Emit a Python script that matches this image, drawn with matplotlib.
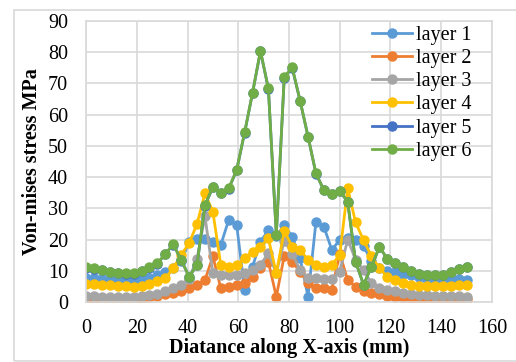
import numpy as np
import matplotlib
matplotlib.use('Agg')
import matplotlib.pyplot as plt
from matplotlib.patches import Rectangle

plt.rcParams['font.family'] = ['Liberation Serif', 'DejaVu Serif']

# distance along X-axis (mm), 49 nodes
x = np.linspace(0, 150, 49)

layer1 = [7.7, 7.6, 7.4, 7.2, 7.0, 7.0, 7.0, 7.3, 7.8, 8.5, 9.5, 10.8, 13.0,
          19.3, 20.1, 20.3, 19.3, 18.3, 26.3, 24.7, 3.8, 11.3, 19.3, 23.0, 21.0,
          24.7, 20.9, 14.0, 1.7, 25.7, 24.1, 16.7, 19.9, 20.4, 20.0, 18.0, 13.0,
          11.0, 10.0, 9.5, 9.0, 8.5, 8.0, 7.5, 7.5, 7.5, 7.5, 7.3, 7.0]
layer2 = [0.6, 0.6, 0.5, 0.5, 0.5, 0.6, 0.7, 1.0, 1.5, 2.0, 2.5, 3.0, 3.6,
          4.5, 5.5, 7.0, 14.6, 4.4, 4.9, 5.4, 6.0, 8.1, 10.8, 12.9, 1.7,
          14.8, 12.9, 9.7, 6.0, 4.4, 4.4, 4.0, 15.5, 7.0, 4.9, 3.5, 3.0,
          2.5, 2.0, 1.5, 1.2, 1.0, 0.8, 0.7, 0.7, 0.7, 0.8, 0.9, 1.0]
layer3 = [1.8, 1.8, 1.7, 1.6, 1.6, 1.6, 1.7, 1.9, 2.2, 2.6, 3.4, 4.4, 5.5,
          7.5, 13.8, 27.5, 9.2, 8.8, 8.5, 8.8, 9.2, 10.2, 12.0, 15.6, 9.2,
          19.6, 15.5, 10.2, 7.6, 7.6, 7.4, 7.4, 9.7, 20.0, 13.5, 10.2, 6.0,
          4.5, 4.0, 3.5, 3.0, 2.6, 2.3, 2.1, 2.0, 2.0, 2.0, 2.0, 1.7]
layer4 = [5.8, 5.8, 5.5, 5.3, 5.0, 5.0, 4.9, 5.2, 5.8, 6.6, 7.6, 10.8, 15.1,
          18.8, 25.0, 34.8, 28.9, 11.9, 11.3, 11.9, 14.0, 16.1, 17.7, 20.4, 9.2,
          22.8, 17.7, 16.7, 13.5, 11.9, 11.3, 11.9, 15.1, 36.4, 25.5, 19.8, 14.7,
          10.8, 8.1, 7.0, 6.2, 5.6, 5.2, 5.0, 5.0, 5.0, 5.2, 5.4, 5.3]
layer5 = [11.0, 10.7, 10.1, 9.5, 9.2, 9.1, 9.1, 9.8, 11.0, 12.3, 15.3, 18.4, 13.5,
          8.1, 11.8, 30.9, 36.8, 34.9, 36.3, 42.2, 54.2, 66.9, 80.3, 68.3, 21.6,
          71.9, 75.0, 64.4, 53.0, 41.1, 35.8, 34.5, 35.6, 32.0, 12.9, 5.5, 11.3,
          17.6, 13.8, 12.6, 11.3, 9.9, 8.9, 8.6, 8.6, 8.6, 9.7, 10.5, 11.2]
layer6 = [11.1, 10.8, 10.2, 9.5, 9.2, 9.2, 9.2, 9.8, 11.1, 12.4, 15.4, 18.5, 13.5,
          8.1, 11.9, 31.0, 36.9, 35.0, 36.4, 42.3, 54.3, 67.0, 80.5, 68.4, 21.5,
          72.0, 75.2, 64.5, 53.0, 41.2, 35.8, 34.6, 35.7, 32.1, 12.9, 5.6, 11.3,
          17.7, 13.8, 12.6, 11.3, 9.9, 8.9, 8.6, 8.6, 8.6, 9.7, 10.5, 11.3]

series = [layer1, layer2, layer3, layer4, layer5, layer6]
labels = ['layer 1', 'layer 2', 'layer 3', 'layer 4', 'layer 5', 'layer 6']
colors = ['#5B9BD5', '#ED7D31', '#A5A5A5', '#FFC000', '#4472C4', '#70AD47']

fig = plt.figure(figsize=(5.16, 3.62), dpi=100)
ax = fig.add_axes([86/516, 1-302/362, (492-86)/516, (302-21)/362])

for s, lab, c in zip(series, labels, colors):
    ax.plot(x, s, '-o', color=c, lw=2, ms=6.5, label=lab)

ax.set_xlim(0, 160)
ax.set_ylim(0, 90)
ax.set_xticks(np.arange(0, 161, 20))
ax.set_yticks(np.arange(0, 91, 10))
ax.grid(True, color='#D9D9D9', lw=1.2)
ax.set_axisbelow(True)
for sp in ax.spines.values():
    sp.set_color('#D9D9D9')
    sp.set_linewidth(1.2)
ax.tick_params(length=0, labelsize=14.5)
ax.tick_params(axis='y', pad=13)
ax.tick_params(axis='x', pad=12)
ax.set_xlabel('Diatance along X-axis (mm)', fontsize=14.5, fontweight='bold', labelpad=0)
ax.set_ylabel('Von-mises stress MPa', fontsize=14.5, fontweight='bold', labelpad=4)

ax.legend(loc='upper left', bbox_to_anchor=(372/516, 1-26/362),
          bbox_transform=fig.transFigure, frameon=False, fontsize=14.5,
          borderpad=0, borderaxespad=0, labelspacing=0.2,
          handlelength=2.0, handletextpad=0.2)

# chart border
fig.patches.append(Rectangle((14/516, 1-361/362), 1, 351/362, transform=fig.transFigure,
                             fill=False, edgecolor='#D9D9D9', lw=1.2))

fig.savefig('out.png', dpi=100)
